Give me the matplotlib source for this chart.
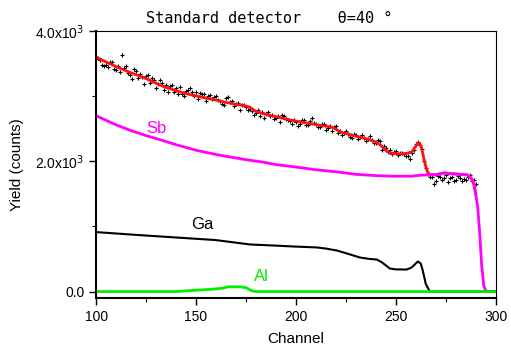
import numpy as np
import matplotlib
matplotlib.use('Agg')
import matplotlib.pyplot as plt

plt.rcParams['font.family'] = ['Liberation Sans', 'DejaVu Sans']

# measured spectrum (every channel 100..290)
ch_data = np.arange(100, 291)
counts = [3570, 3590, 3560, 3480, 3460, 3480, 3450, 3530, 3520, 3420,
          3400, 3470, 3370, 3640, 3440, 3470, 3360, 3330, 3270, 3410,
          3390, 3280, 3340, 3290, 3190, 3310, 3330, 3210, 3280, 3250,
          3130, 3180, 3250, 3200, 3100, 3170, 3070, 3150, 3170, 3060,
          3130, 3040, 3140, 3030, 3000, 3080, 3090, 3120, 3060, 3010,
          3060, 2960, 3050, 3030, 3040, 2930, 3000, 3020, 2950, 2990,
          3000, 2940, 2920, 2880, 2860, 2970, 2980, 2910, 2930, 2850,
          2880, 2900, 2790, 2870, 2860, 2840, 2790, 2810, 2780, 2710,
          2740, 2790, 2690, 2750, 2660, 2720, 2760, 2690, 2710, 2650,
          2660, 2700, 2600, 2710, 2700, 2650, 2630, 2620, 2580, 2640,
          2610, 2540, 2580, 2630, 2630, 2560, 2550, 2620, 2660, 2590,
          2580, 2530, 2530, 2570, 2570, 2480, 2510, 2540, 2460, 2530,
          2540, 2440, 2470, 2410, 2440, 2470, 2420, 2370, 2360, 2420,
          2410, 2340, 2370, 2410, 2360, 2310, 2340, 2390, 2330, 2280,
          2280, 2320, 2310, 2170, 2230, 2200, 2140, 2170, 2110, 2140,
          2160, 2100, 2130, 2120, 2110, 2080, 2080, 2040, 2130, 2170,
          2260, 2300, 2250, 2190, 2000, 1900, 1800, 1760, 1760, 1650,
          1700, 1780, 1760, 1710, 1740, 1790, 1680, 1740, 1760, 1690,
          1720, 1770, 1750, 1700, 1730, 1710, 1760, 1790, 1700, 1720,
          1650]

# total simulation
ch_fit = [100, 105, 110, 115, 120, 125, 130, 134, 140, 145, 150, 155, 160, 165,
          170, 175, 177, 180, 185, 190, 197, 205, 212, 218, 220, 222, 226, 230,
          236, 240, 242.5, 245, 247, 251, 255, 258, 260, 261, 262, 263, 264, 265,
          266, 267, 270, 274, 280, 286, 288, 289, 290]
fit = [3600, 3525, 3455, 3390, 3330, 3270, 3200, 3145, 3085, 3040, 3005, 2970,
       2940, 2905, 2875, 2850, 2830, 2765, 2720, 2685, 2635, 2590, 2554, 2525,
       2495, 2451, 2420, 2385, 2340, 2297, 2246, 2170, 2128, 2115, 2118, 2143,
       2230, 2282, 2270, 2195, 2050, 1920, 1830, 1800, 1790, 1820, 1805, 1790,
       1730, 1650, 1500]

# Sb contribution
ch_sb = [100, 110, 117, 125, 133, 140, 150, 160, 167, 175, 183, 190, 200, 210,
         220, 230, 240, 250, 258, 262, 265, 270, 274, 280, 286, 288, 289, 290,
         291, 292, 293, 294, 295, 296, 300]
sb = [2700, 2560, 2477, 2395, 2323, 2255, 2170, 2105, 2066, 2025, 1990, 1950,
      1912, 1870, 1840, 1800, 1780, 1770, 1772, 1785, 1790, 1795, 1820, 1805,
      1790, 1730, 1680, 1500, 1300, 900, 400, 100, 10, 0, 0]

# Ga contribution
ch_ga = [100, 120, 140, 160, 177, 190, 200, 210.5, 215, 220.5, 226, 232, 237,
         240.5, 243, 247, 250, 255.5, 258, 261, 262.5, 263.5, 265, 267, 270, 300]
ga = [913, 870, 830, 790, 723, 705, 690, 677, 660, 630, 580, 523, 500, 492, 450,
      354, 340, 338, 370, 461, 430, 323, 120, 0, 0, 0]

# Al contribution
ch_al = [100, 140, 150, 158, 163, 166, 172, 175, 178, 180, 300]
al = [0, 0, 20, 35, 50, 72, 72, 60, 10, 0, 0]

fig = plt.figure(figsize=(5.11, 3.49), dpi=100)
ax = fig.add_axes([0.188, 0.146, 0.782, 0.765])

ax.plot(ch_data, counts, '+', color='black', markersize=3.5, markeredgewidth=0.8)
ax.plot(ch_fit, fit, color='#ff1010', linewidth=2)
ax.plot(ch_sb, sb, color='#ff00ff', linewidth=2)
ax.plot(ch_ga, ga, color='black', linewidth=1.5)
ax.plot(ch_al, al, color='#00ee00', linewidth=2)

ax.text(130, 2510, 'Sb', color='#ff00ff', fontsize=12, ha='center', va='center')
ax.text(153, 1030, 'Ga', color='black', fontsize=12, ha='center', va='center')
ax.text(183, 230, 'Al', color='#00ee00', fontsize=12, ha='center', va='center')

ax.set_xlim(100, 300)
ax.set_ylim(-100, 4000)
ax.set_xticks([100, 150, 200, 250, 300])
ax.set_xticks([125, 175, 225, 275], minor=True)
ax.set_yticks([0, 2000, 4000])
ax.set_yticklabels(['0.0', r'2.0x10$^3$', r'4.0x10$^3$'])
ax.set_yticks([1000, 3000], minor=True)
ax.tick_params(which='both', direction='out', labelsize=10, top=False, right=False)
ax.tick_params(which='major', length=5, width=1)
ax.tick_params(which='minor', length=3, width=0.8)
for s in ['left', 'bottom']:
    ax.spines[s].set_linewidth(1.5)
for s in ['top', 'right']:
    ax.spines[s].set_linewidth(0.8)

ax.set_xlabel('Channel', fontsize=11, labelpad=6)
ax.set_ylabel('Yield (counts)', fontsize=11, labelpad=8)
fig.text(0.286, 0.948, 'Standard detector    θ=40 °', fontsize=11,
         family=['DejaVu Sans Mono'], ha='left', va='center')

fig.savefig('out.png', dpi=100)
